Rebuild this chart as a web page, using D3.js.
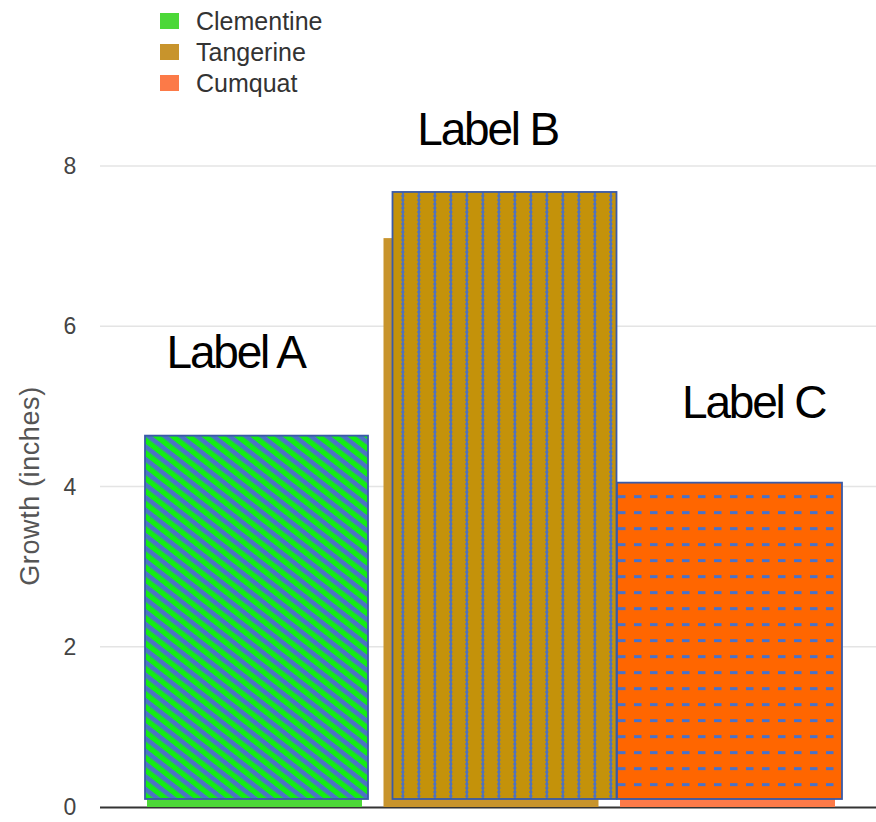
<!DOCTYPE html>
<html>
<head>
<meta charset="utf-8">
<script src="https://cdn.jsdelivr.net/npm/d3@7"></script>
<style>
  html, body { margin: 0; padding: 0; background: #fff; }
  svg { display: block; font-family: "Liberation Sans", Arial, Helvetica, sans-serif; }
</style>
</head>
<body>
<svg id="chart" width="876" height="822"></svg>
<script>
// Fruit growth data
const categories = ["Clementine", "Tangerine", "Cumquat"];
const growth = [4.25, 7.1, 3.7];
const barLabels = ["Label A", "Label B", "Label C"];
const colors = ["#4cd838", "#c8942c", "#fc7a48"];
const yTicks = [0, 2, 4, 6, 8];
const axisTitle = "Growth (inches)";

const W = 876, H = 822;
const svg = d3.select("#chart");

// Scales
const y = d3.scaleLinear().domain([0, 8]).range([807, 166]);
// patterned overlays sit on their own, slightly shifted vertical scale
const yPat = d3.scaleLinear().domain([0, 8]).range([799, 115]);
const x = d3.scaleBand().domain(categories)
  .range([136.25, 136.25 + 3 * 236.5])
  .paddingInner(21.5 / 236.5)
  .paddingOuter(21.5 / 236.5 / 2);

// Pattern fills
const defs = svg.append("defs");
const PAT_BLUE = "#4c72c6";

const overlayDx = [-2, 9, -3];
const overlayExtra = [8, 9, 10];

function overlayX(i) { return x(categories[i]) + overlayDx[i]; }

// Clementine: diagonal stripes
const p0 = defs.append("pattern").attr("id", "pat0")
  .attr("patternUnits", "userSpaceOnUse")
  .attr("width", 10).attr("height", 10)
  .attr("patternTransform", "rotate(38)");
p0.append("rect").attr("width", 10).attr("height", 10).attr("fill", "#14ec14");
p0.append("rect").attr("y", 0).attr("width", 10).attr("height", 4.6).attr("fill", PAT_BLUE);

// Tangerine: vertical lines with a slightly ragged edge
const p1 = defs.append("pattern").attr("id", "pat1")
  .attr("patternUnits", "userSpaceOnUse")
  .attr("x", overlayX(1) + 10 - 1.5)
  .attr("width", 16).attr("height", 8);
p1.append("rect").attr("width", 16).attr("height", 8).attr("fill", "#c4920a");
p1.append("path").attr("d", "M0,0 L1.2,2 L0,4 L1.2,6 L0,8 L3.6,8 L2.6,6 L3.6,4 L2.6,2 L3.6,0 Z")
  .attr("fill", "#5072bc");

// Cumquat: horizontal dashed lines
const p2 = defs.append("pattern").attr("id", "pat2")
  .attr("patternUnits", "userSpaceOnUse")
  .attr("x", overlayX(2) + 1)
  .attr("y", yPat(growth[2]) + 12.5)
  .attr("width", 16).attr("height", 16);
p2.append("rect").attr("width", 16).attr("height", 16).attr("fill", "#ff6600");
p2.append("rect").attr("x", 0).attr("y", 0).attr("width", 7.5).attr("height", 3).attr("fill", "#4a72c8");

// Gridlines
svg.append("g").selectAll("line").data(yTicks.filter(d => d !== 0)).join("line")
  .attr("x1", 100).attr("x2", W)
  .attr("y1", d => y(d)).attr("y2", d => y(d))
  .attr("stroke", "#e4e4e4").attr("stroke-width", 1.5);

// Tick labels
svg.append("g").selectAll("text").data(yTicks).join("text")
  .attr("x", 70).attr("y", d => y(d))
  .attr("dy", "0.35em")
  .attr("text-anchor", "middle")
  .attr("font-size", 23)
  .attr("fill", "#444")
  .text(d => d);

// Axis title
svg.append("text")
  .attr("transform", "translate(39,486) rotate(-90)")
  .attr("text-anchor", "middle")
  .attr("font-size", 27)
  .attr("letter-spacing", "0.6px")
  .attr("fill", "#555")
  .text(axisTitle);

// Baseline
svg.append("line")
  .attr("x1", 100).attr("x2", W)
  .attr("y1", y(0) + 0.5).attr("y2", y(0) + 0.5)
  .attr("stroke", "#333").attr("stroke-width", 2.2);

// Solid bars
svg.append("g").selectAll("rect").data(growth).join("rect")
  .attr("x", (d, i) => x(categories[i]))
  .attr("y", d => y(d))
  .attr("width", x.bandwidth())
  .attr("height", d => y(0) - y(d))
  .attr("fill", (d, i) => colors[i]);

// Patterned overlays
svg.append("g").selectAll("rect").data(growth).join("rect")
  .attr("x", (d, i) => overlayX(i))
  .attr("y", d => yPat(d))
  .attr("width", (d, i) => x.bandwidth() + overlayExtra[i])
  .attr("height", d => yPat(0) - yPat(d))
  .attr("fill", (d, i) => `url(#pat${i})`)
  .attr("stroke", "#3a5aa8")
  .attr("stroke-width", 1.8);

// Bar labels
const labelLayout = [
  { dx: -20, y: 368 },
  { dx: -4.5, y: 145 },
  { dx: 25, y: 418 }
];
svg.append("g").selectAll("text").data(barLabels).join("text")
  .attr("x", (d, i) => x(categories[i]) + x.bandwidth() / 2 + labelLayout[i].dx + 1.1)
  .attr("y", (d, i) => labelLayout[i].y)
  .attr("text-anchor", "middle")
  .attr("font-size", 46)
  .attr("letter-spacing", "-2.2px")
  .attr("fill", "#000")
  .text(d => d);

// Legend
const legend = svg.append("g").selectAll("g").data(categories).join("g")
  .attr("transform", (d, i) => `translate(160,${21 + i * 31})`);
legend.append("rect")
  .attr("x", 0).attr("y", -8).attr("width", 19).attr("height", 16)
  .attr("fill", (d, i) => colors[i]);
legend.append("text")
  .attr("x", 36).attr("y", 0).attr("dy", "0.35em")
  .attr("font-size", 25)
  .attr("fill", "#333")
  .text(d => d);
</script>
</body>
</html>
